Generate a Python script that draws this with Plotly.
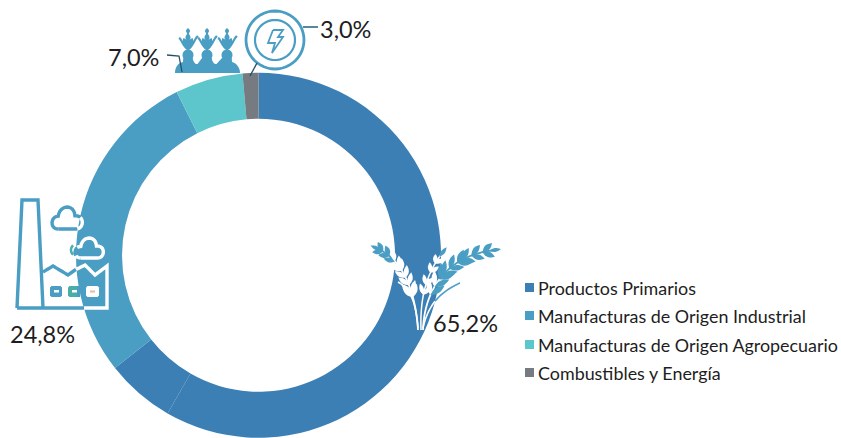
import math
import plotly.graph_objects as go

# ---- data ----
slice_names = ["Productos Primarios A", "Productos Primarios B", "Manufacturas de Origen Industrial",
               "Manufacturas de Origen Agropecuario", "Combustibles y Energía"]
slice_values = [58.3, 6.1, 28.2, 6.0, 1.4]
slice_colors = ["#3C7FB4", "#3C7FB4", "#4A9DC3", "#5CC6CC", "#757B80"]
legend_names = ["Productos Primarios", "Manufacturas de Origen Industrial",
                "Manufacturas de Origen Agropecuario", "Combustibles y Energía"]
legend_colors = ["#3C7FB4", "#4A9DC3", "#5CC6CC", "#757B80"]
value_labels = ["65,2%", "24,8%", "7,0%", "3,0%"]

W, H = 841, 438
CX, CY, R, RI = 258.5, 255, 182.5, 136.5
BLUE = "#4A9DC3"
INK = "#1d1d22"
FONT = "Lato"


def fx(x):
    return x / W


def fy(y):
    return 1 - y / H


def in_ring(p):
    d = math.hypot(p[0] - CX, p[1] - CY)
    return RI <= d <= R


def to_path(points, close=False):
    s = "M" + " L".join(f"{fx(x):.5f},{fy(y):.5f}" for x, y in points)
    return s + (" Z" if close else "")


shapes = []


def fill(points, color):
    shapes.append(dict(type="path", xref="paper", yref="paper", path=to_path(points, True),
                       fillcolor=color, line=dict(width=0), layer="above"))


def stroke(points, color, width):
    shapes.append(dict(type="path", xref="paper", yref="paper", path=to_path(points),
                       line=dict(color=color, width=width), layer="above"))


def bez(p0, p1, p2, p3, n=24):
    out = []
    for i in range(n + 1):
        t = i / n
        a = (1 - t)
        out.append((a**3 * p0[0] + 3 * a * a * t * p1[0] + 3 * a * t * t * p2[0] + t**3 * p3[0],
                    a**3 * p0[1] + 3 * a * a * t * p1[1] + 3 * a * t * t * p2[1] + t**3 * p3[1]))
    return out


def dense(points, step=1.0):
    out = [points[0]]
    for a, b in zip(points, points[1:]):
        n = max(1, int(math.hypot(b[0] - a[0], b[1] - a[1]) / step))
        for i in range(1, n + 1):
            out.append((a[0] + (b[0] - a[0]) * i / n, a[1] + (b[1] - a[1]) * i / n))
    return out


def ring_stroke(points, width, out_color=BLUE, in_color="white"):
    pts = dense(points)
    run = [pts[0]]
    state = in_ring(pts[0])
    for p in pts[1:]:
        now = in_ring(p)
        run.append(p)
        if now != state:
            stroke(run, in_color if state else out_color, width)
            run = [p]
            state = now
    if len(run) > 1:
        stroke(run, in_color if state else out_color, width)


def circle(cx, cy, r, a0=0, a1=360, n=48):
    return [(cx + r * math.cos(math.radians(a0 + (a1 - a0) * i / n)),
             cy + r * math.sin(math.radians(a0 + (a1 - a0) * i / n))) for i in range(n + 1)]


def lens(x, y, ang, length, width):
    ca, sa = math.cos(ang), math.sin(ang)
    pts = []
    for i in range(9):
        t = i / 8
        w = width / 2 * math.sin(math.pi * t)
        pts.append((x + ca * length * t - sa * w, y + sa * length * t + ca * w))
    for i in range(7, 0, -1):
        t = i / 8
        w = width / 2 * math.sin(math.pi * t)
        pts.append((x + ca * length * t + sa * w, y + sa * length * t - ca * w))
    return pts


def ear(curve, t_start, n_pairs, length=12.5, width=4.2, spread=0.62):
    m = len(curve) - 1
    for k in range(n_pairs):
        t = t_start + (1 - t_start) * k / n_pairs
        i = min(m - 1, int(t * m))
        p, q = curve[i], curve[i + 1]
        ang = math.atan2(q[1] - p[1], q[0] - p[0])
        scale = 1 - 0.25 * k / n_pairs
        for sgn in (-1, 1):
            a = ang + sgn * spread
            leaf = lens(p[0], p[1], a, length * scale, width)
            mid = leaf[4]
            fill(leaf, "white" if in_ring(mid) else BLUE)
    tip = curve[-1]
    p = curve[-2]
    ang = math.atan2(tip[1] - p[1], tip[0] - p[0])
    leaf = lens(tip[0] - 6 * math.cos(ang), tip[1] - 6 * math.sin(ang), ang, 12, 4)
    fill(leaf, "white" if in_ring(leaf[4]) else BLUE)


# ---- wheat ----
left_stem = bez((418, 330), (416, 298), (406, 260), (376, 248))
right_stem = bez((423, 330), (424, 295), (442, 256), (495, 250))
centre_stem = bez((421, 330), (420, 300), (425, 275), (443, 252))
ring_stroke(left_stem, 1.8)
ring_stroke(right_stem, 1.8)
ring_stroke(centre_stem, 1.5)
ring_stroke(bez((418, 328), (416, 305), (412, 290), (398, 282)), 1.6)
ring_stroke(bez((423, 328), (428, 305), (440, 292), (460, 283)), 1.6)
ear(left_stem, 0.34, 9, 14, 5.0, 0.56)
ear(right_stem, 0.36, 9, 17, 5.6, 0.56)
ear(centre_stem, 0.42, 4, 12, 4.4, 0.5)

# ---- factory ----
ring_stroke([(17, 308), (22, 200), (38, 200), (43, 308)], 3.4)
ring_stroke([(17, 308), (107, 308), (107, 266), (95, 275), (85, 265), (75, 270), (68, 275), (53, 266), (43, 272)], 3.4)


def cloud(x0, y0, x1, y1):
    w, h = x1 - x0, y1 - y0
    pts = []
    pts += bez((x0 + .2 * w, y1), (x0 - .08 * w, y1), (x0 - .05 * w, y0 + .42 * h), (x0 + .2 * w, y0 + .42 * h), 10)
    pts += bez((x0 + .2 * w, y0 + .42 * h), (x0 + .25 * w, y0 - .12 * h), (x0 + .72 * w, y0 - .15 * h), (x0 + .74 * w, y0 + .4 * h), 12)
    pts += bez((x0 + .74 * w, y0 + .4 * h), (x0 + 1.05 * w, y0 + .35 * h), (x0 + 1.05 * w, y1), (x0 + .78 * w, y1), 10)
    pts.append((x0 + .2 * w, y1))
    return pts


ring_stroke(cloud(52, 207, 83, 229), 3.4)
ring_stroke(cloud(75, 238, 104, 258), 3.4)
stroke(circle(77, 250, 6, 130, 230, 10), "#4AB0AE", 2.5)


def rrect(x0, y0, x1, y1, color):
    fill([(x0 + 1.5, y0), (x1 - 1.5, y0), (x1, y0 + 1.5), (x1, y1 - 1.5), (x1 - 1.5, y1), (x0 + 1.5, y1), (x0, y1 - 1.5), (x0, y0 + 1.5)], color)


rrect(50, 286, 62, 297, BLUE)
fill([(54, 290), (59, 290), (59, 292.5), (54, 292.5)], "white")
rrect(68, 286, 80, 297, "#4AADA8")
fill([(77, 286), (80, 286), (80, 297), (77, 297)], BLUE)
fill([(72, 290), (77, 290), (77, 292.5), (72, 292.5)], "white")
rrect(86, 286, 99, 297, "white")
fill([(90, 290.5), (95, 290.5), (95, 292.5), (90, 292.5)], "#E8B9A8")

# ---- people with plants ----
people_x = [188, 207, 227]
body = []
body += bez((175, 73), (175, 67), (178, 63), (183, 62), 8)
for i, x in enumerate(people_x):
    body += circle(x, 55, 5.5, 150, 390, 16)
    if i < 2:
        body += bez((x + 5, 60), (x + 6, 62), (x + 7, 65), (x + 9.5, 64), 4)
body += bez((232, 62), (236, 63), (240, 67), (240, 73), 8)
fill(body, BLUE)
for x in people_x:
    stroke([(x, 50), (x, 29)], BLUE, 1.8)
    stroke(bez((x, 49), (x - 4, 48), (x - 7, 38), (x - 9, 38), 8), BLUE, 2.2)
    stroke(bez((x, 49), (x + 4, 48), (x + 7, 38), (x + 10, 36), 8), BLUE, 2.2)
    fill(lens(x, 48, math.radians(-115), 11, 6), BLUE)
    fill(lens(x, 48, math.radians(-65), 11, 6), BLUE)
    fill(lens(x, 42, math.radians(-90), 9, 5), BLUE)
    fill(lens(x, 34, math.radians(-90), 6, 4), BLUE)

# ---- bolt ----
stroke(circle(275, 40, 29), BLUE, 2.8)
stroke(circle(275, 40, 20), BLUE, 2.2)
stroke([(273, 30), (283, 30), (278, 37), (283, 37), (272, 53), (275, 43), (268, 43), (273, 30)], BLUE, 1.8)

# ---- leader lines ----
stroke([(167, 55), (179, 56), (182, 72)], "#24506A", 1.3)
stroke([(303, 27), (318, 27)], "#2F6A85", 1.6)
stroke([(257, 63), (250, 76)], "#24506A", 1.4)

# ---- legend and labels as text ----
annotations = []
legend_y = [288, 316, 345, 373]
for name, col, y in zip(legend_names, legend_colors, legend_y):
    fill([(525, y - 5), (534, y - 5), (534, y + 4), (525, y + 4)], col)
    annotations.append(dict(x=fx(536), y=fy(y), xref="paper", yref="paper", text=name, showarrow=False,
                            xanchor="left", yanchor="middle", font=dict(family=FONT, size=17.9, color=INK)))
label_pos = [(431, 323), (8, 334), (106, 57), (318, 29)]
for text, (x, y) in zip(value_labels, label_pos):
    annotations.append(dict(x=fx(x), y=fy(y), xref="paper", yref="paper", text=text, showarrow=False,
                            xanchor="left", yanchor="middle", font=dict(family=FONT, size=23.5, color=INK)))

fig = go.Figure(go.Pie(
    labels=slice_names, values=slice_values, hole=RI / R, sort=False, direction="clockwise", rotation=0,
    marker=dict(colors=slice_colors, line=dict(width=0)), textinfo="none", showlegend=False, hoverinfo="label+percent",
    domain=dict(x=[fx(CX - R), fx(CX + R)], y=[0, fy(CY - R)]),
))
fig.update_layout(width=W, height=H, margin=dict(l=0, r=0, t=0, b=0), paper_bgcolor="white", plot_bgcolor="white",
                  shapes=shapes, annotations=annotations, showlegend=False)
fig.write_html("out.html", config=dict(displayModeBar=False),
               post_script="document.body.style.margin='0';document.body.style.overflow='hidden';")
